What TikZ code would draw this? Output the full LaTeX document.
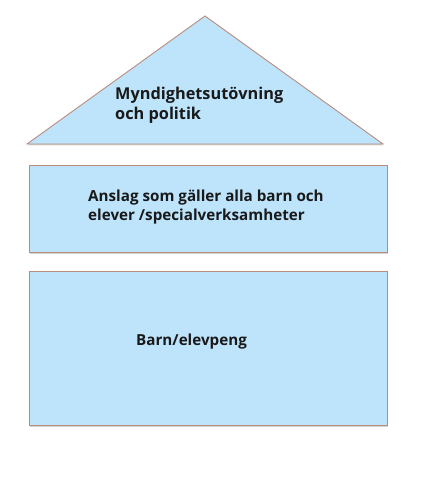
\documentclass[tikz,border=0pt]{standalone}
\usepackage{fontspec}
\setmainfont{Open Sans}
\usepackage{tikz}
\usetikzlibrary{positioning,shadows}

\definecolor{boxfill}{RGB}{190,228,251}
\definecolor{boxline}{RGB}{185,140,125}

\begin{document}
\begin{tikzpicture}[x=1pt,y=-1pt,
  part/.style={fill=boxfill,draw=boxline,line width=0.9pt,
    drop shadow={shadow xshift=0.6pt,shadow yshift=-1.5pt,fill=black!35}},
  label/.style={font=\bfseries\fontsize{15.2}{19.5}\selectfont,align=left,
    inner sep=0pt,anchor=west,text=black!90}]
\useasboundingbox (0,0) rectangle (426,481);
% roof
\coordinate (top) at (205,16);
\coordinate (roofl) at (27,144);
\coordinate (roofr) at (383,144);
\path[part] (top) -- (roofr) -- (roofl) -- cycle;
\node[label,font=\bfseries\fontsize{16.3}{20}\selectfont] (roof) at (115,105) {Myndighetsutövning\\och politik};
% middle
\coordinate (midtl) at (29,165);
\coordinate (midbr) at (387,252);
\path[part] (midtl) rectangle (midbr);
\node[label] (mid) at (88,207) {Anslag som gäller alla barn och\\elever /specialverksamheter};
% base
\coordinate (bottl) at (29,271);
\coordinate (botbr) at (387,425);
\path[part] (bottl) rectangle (botbr);
\node[label] (base) at (136,342) {Barn/elevpeng};
\end{tikzpicture}
\end{document}
